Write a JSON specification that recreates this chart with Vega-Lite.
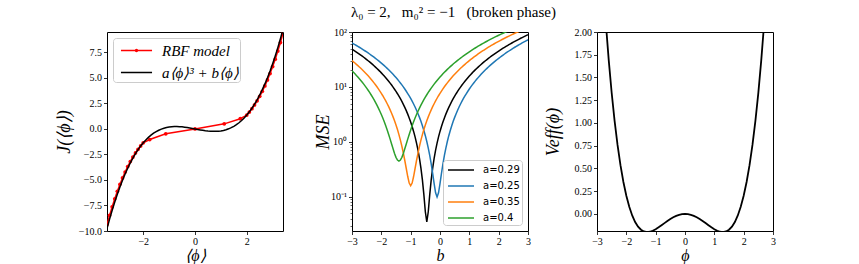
{
  "$schema": "https://vega.github.io/schema/vega-lite/v6.json",
  "padding": {"left": 54, "top": 4, "right": 5, "bottom": 0},
  "title": {"text": "λ₀ = 2,\u2002 m₀² = −1\u2002 (broken phase)", "anchor": "middle", "dx": 38, "font": "Liberation Serif", "fontSize": 15, "fontWeight": "normal", "color": "black", "offset": 7},
  "datasets": {
    "fit": [
      {"phi": -3.4, "J": -9.766}, {"phi": -3.3, "J": -8.838}, {"phi": -3.2, "J": -7.967}, {"phi": -3.1, "J": -7.151}, {"phi": -3.0, "J": -6.39},
      {"phi": -2.9, "J": -5.681}, {"phi": -2.8, "J": -5.022}, {"phi": -2.7, "J": -4.412}, {"phi": -2.6, "J": -3.849}, {"phi": -2.5, "J": -3.331},
      {"phi": -2.4, "J": -2.857}, {"phi": -2.3, "J": -2.424}, {"phi": -2.2, "J": -2.032}, {"phi": -2.1, "J": -1.678}, {"phi": -2.0, "J": -1.36},
      {"phi": -1.9, "J": -1.077}, {"phi": -1.8, "J": -0.827}, {"phi": -1.7, "J": -0.609}, {"phi": -1.6, "J": -0.42}, {"phi": -1.5, "J": -0.259},
      {"phi": -1.4, "J": -0.124}, {"phi": -1.3, "J": -0.013}, {"phi": -1.2, "J": 0.075}, {"phi": -1.1, "J": 0.142}, {"phi": -1.0, "J": 0.19},
      {"phi": -0.9, "J": 0.221}, {"phi": -0.8, "J": 0.236}, {"phi": -0.7, "J": 0.237}, {"phi": -0.6, "J": 0.225}, {"phi": -0.5, "J": 0.204},
      {"phi": -0.4, "J": 0.173}, {"phi": -0.3, "J": 0.136}, {"phi": -0.2, "J": 0.094}, {"phi": -0.1, "J": 0.048}, {"phi": 0.0, "J": 0.0},
      {"phi": 0.1, "J": -0.048}, {"phi": 0.2, "J": -0.094}, {"phi": 0.3, "J": -0.136}, {"phi": 0.4, "J": -0.173}, {"phi": 0.5, "J": -0.204},
      {"phi": 0.6, "J": -0.225}, {"phi": 0.7, "J": -0.237}, {"phi": 0.8, "J": -0.236}, {"phi": 0.9, "J": -0.221}, {"phi": 1.0, "J": -0.19},
      {"phi": 1.1, "J": -0.142}, {"phi": 1.2, "J": -0.075}, {"phi": 1.3, "J": 0.013}, {"phi": 1.4, "J": 0.124}, {"phi": 1.5, "J": 0.259},
      {"phi": 1.6, "J": 0.42}, {"phi": 1.7, "J": 0.609}, {"phi": 1.8, "J": 0.827}, {"phi": 1.9, "J": 1.077}, {"phi": 2.0, "J": 1.36},
      {"phi": 2.1, "J": 1.678}, {"phi": 2.2, "J": 2.032}, {"phi": 2.3, "J": 2.424}, {"phi": 2.4, "J": 2.857}, {"phi": 2.5, "J": 3.331},
      {"phi": 2.6, "J": 3.849}, {"phi": 2.7, "J": 4.412}, {"phi": 2.8, "J": 5.022}, {"phi": 2.9, "J": 5.681}, {"phi": 3.0, "J": 6.39},
      {"phi": 3.1, "J": 7.151}, {"phi": 3.2, "J": 7.967}, {"phi": 3.3, "J": 8.838}, {"phi": 3.4, "J": 9.766}
    ],
    "rbf": [
      {"phi": -3.4, "J": -9.37}, {"phi": -3.3, "J": -8.47}, {"phi": -3.2, "J": -7.63}, {"phi": -3.1, "J": -6.84}, {"phi": -3.0, "J": -6.11},
      {"phi": -2.9, "J": -5.43}, {"phi": -2.8, "J": -4.8}, {"phi": -2.7, "J": -4.22}, {"phi": -2.6, "J": -3.69}, {"phi": -2.5, "J": -3.2},
      {"phi": -2.4, "J": -2.76}, {"phi": -2.3, "J": -2.35}, {"phi": -2.2, "J": -1.99}, {"phi": -2.1, "J": -1.66}, {"phi": -2.0, "J": -1.36},
      {"phi": -1.75, "J": -1.04}, {"phi": -1.13, "J": -0.48}, {"phi": 0.0, "J": 0.0}, {"phi": 1.13, "J": 0.5}, {"phi": 1.75, "J": 1.0},
      {"phi": 2.0, "J": 1.36}, {"phi": 2.1, "J": 1.66}, {"phi": 2.2, "J": 1.99}, {"phi": 2.3, "J": 2.35}, {"phi": 2.4, "J": 2.76},
      {"phi": 2.5, "J": 3.2}, {"phi": 2.6, "J": 3.69}, {"phi": 2.7, "J": 4.22}, {"phi": 2.8, "J": 4.8}, {"phi": 2.9, "J": 5.43},
      {"phi": 3.0, "J": 6.11}, {"phi": 3.1, "J": 6.84}, {"phi": 3.2, "J": 7.63}, {"phi": 3.3, "J": 8.47}, {"phi": 3.4, "J": 9.37}
    ],
    "mse": [
      {"b": -3.0, "a029": 48.8, "a025": 63.18, "a035": 30.16, "a04": 19.65},
      {"b": -2.95, "a029": 46.91, "a025": 61.02, "a035": 28.68, "a04": 18.47},
      {"b": -2.9, "a029": 45.05, "a025": 58.9, "a035": 27.24, "a04": 17.33},
      {"b": -2.85, "a029": 43.24, "a025": 56.82, "a035": 25.83, "a04": 16.22},
      {"b": -2.8, "a029": 41.45, "a025": 54.78, "a035": 24.46, "a04": 15.15},
      {"b": -2.75, "a029": 39.71, "a025": 52.77, "a035": 23.13, "a04": 14.12},
      {"b": -2.7, "a029": 38.0, "a025": 50.8, "a035": 21.84, "a04": 13.13},
      {"b": -2.65, "a029": 36.34, "a025": 48.87, "a035": 20.58, "a04": 12.17},
      {"b": -2.6, "a029": 34.7, "a025": 46.98, "a035": 19.36, "a04": 11.25},
      {"b": -2.55, "a029": 33.11, "a025": 45.12, "a035": 18.18, "a04": 10.37},
      {"b": -2.5, "a029": 31.55, "a025": 43.3, "a035": 17.04, "a04": 9.525},
      {"b": -2.45, "a029": 30.04, "a025": 41.52, "a035": 15.93, "a04": 8.719},
      {"b": -2.4, "a029": 28.55, "a025": 39.78, "a035": 14.86, "a04": 7.95},
      {"b": -2.35, "a029": 27.11, "a025": 38.07, "a035": 13.83, "a04": 7.219},
      {"b": -2.3, "a029": 25.7, "a025": 36.4, "a035": 12.84, "a04": 6.525},
      {"b": -2.25, "a029": 24.34, "a025": 34.77, "a035": 11.88, "a04": 5.869},
      {"b": -2.2, "a029": 23.0, "a025": 33.18, "a035": 10.96, "a04": 5.25},
      {"b": -2.15, "a029": 21.71, "a025": 31.62, "a035": 10.08, "a04": 4.669},
      {"b": -2.1, "a029": 20.45, "a025": 30.1, "a035": 9.235, "a04": 4.125},
      {"b": -2.05, "a029": 19.24, "a025": 28.62, "a035": 8.429, "a04": 3.619},
      {"b": -2.0, "a029": 18.05, "a025": 27.18, "a035": 7.66, "a04": 3.15},
      {"b": -1.95, "a029": 16.91, "a025": 25.77, "a035": 6.929, "a04": 2.719},
      {"b": -1.9, "a029": 15.8, "a025": 24.4, "a035": 6.235, "a04": 2.325},
      {"b": -1.85, "a029": 14.74, "a025": 23.07, "a035": 5.579, "a04": 1.969},
      {"b": -1.8, "a029": 13.7, "a025": 21.78, "a035": 4.96, "a04": 1.65},
      {"b": -1.75, "a029": 12.71, "a025": 20.52, "a035": 4.379, "a04": 1.369},
      {"b": -1.7, "a029": 11.75, "a025": 19.3, "a035": 3.835, "a04": 1.125},
      {"b": -1.65, "a029": 10.84, "a025": 18.12, "a035": 3.329, "a04": 0.9188},
      {"b": -1.6, "a029": 9.954, "a025": 16.98, "a035": 2.86, "a04": 0.75},
      {"b": -1.55, "a029": 9.11, "a025": 15.87, "a035": 2.429, "a04": 0.6188},
      {"b": -1.5, "a029": 8.304, "a025": 14.8, "a035": 2.035, "a04": 0.525},
      {"b": -1.45, "a029": 7.535, "a025": 13.77, "a035": 1.679, "a04": 0.4688},
      {"b": -1.4, "a029": 6.804, "a025": 12.78, "a035": 1.36, "a04": 0.45},
      {"b": -1.35, "a029": 6.11, "a025": 11.82, "a035": 1.079, "a04": 0.4688},
      {"b": -1.3, "a029": 5.454, "a025": 10.9, "a035": 0.835, "a04": 0.525},
      {"b": -1.25, "a029": 4.835, "a025": 10.02, "a035": 0.6288, "a04": 0.6188},
      {"b": -1.2, "a029": 4.254, "a025": 9.175, "a035": 0.46, "a04": 0.75},
      {"b": -1.15, "a029": 3.71, "a025": 8.369, "a035": 0.3288, "a04": 0.9188},
      {"b": -1.1, "a029": 3.204, "a025": 7.6, "a035": 0.235, "a04": 1.125},
      {"b": -1.05, "a029": 2.735, "a025": 6.869, "a035": 0.1788, "a04": 1.369},
      {"b": -1.0, "a029": 2.304, "a025": 6.175, "a035": 0.16, "a04": 1.65},
      {"b": -0.95, "a029": 1.91, "a025": 5.519, "a035": 0.1788, "a04": 1.969},
      {"b": -0.9, "a029": 1.554, "a025": 4.9, "a035": 0.235, "a04": 2.325},
      {"b": -0.85, "a029": 1.235, "a025": 4.319, "a035": 0.3288, "a04": 2.719},
      {"b": -0.8, "a029": 0.9538, "a025": 3.775, "a035": 0.46, "a04": 3.15},
      {"b": -0.75, "a029": 0.71, "a025": 3.269, "a035": 0.6288, "a04": 3.619},
      {"b": -0.7, "a029": 0.5038, "a025": 2.8, "a035": 0.835, "a04": 4.125},
      {"b": -0.65, "a029": 0.335, "a025": 2.369, "a035": 1.079, "a04": 4.669},
      {"b": -0.6, "a029": 0.2038, "a025": 1.975, "a035": 1.36, "a04": 5.25},
      {"b": -0.55, "a029": 0.11, "a025": 1.619, "a035": 1.679, "a04": 5.869},
      {"b": -0.5, "a029": 0.05375, "a025": 1.3, "a035": 2.035, "a04": 6.525},
      {"b": -0.45, "a029": 0.035, "a025": 1.019, "a035": 2.429, "a04": 7.219},
      {"b": -0.4, "a029": 0.05375, "a025": 0.775, "a035": 2.86, "a04": 7.95},
      {"b": -0.35, "a029": 0.11, "a025": 0.5688, "a035": 3.329, "a04": 8.719},
      {"b": -0.3, "a029": 0.2038, "a025": 0.4, "a035": 3.835, "a04": 9.525},
      {"b": -0.25, "a029": 0.335, "a025": 0.2688, "a035": 4.379, "a04": 10.37},
      {"b": -0.2, "a029": 0.5038, "a025": 0.175, "a035": 4.96, "a04": 11.25},
      {"b": -0.15, "a029": 0.71, "a025": 0.1188, "a035": 5.579, "a04": 12.17},
      {"b": -0.1, "a029": 0.9538, "a025": 0.1, "a035": 6.235, "a04": 13.13},
      {"b": -0.05, "a029": 1.235, "a025": 0.1188, "a035": 6.929, "a04": 14.12},
      {"b": 0.0, "a029": 1.554, "a025": 0.175, "a035": 7.66, "a04": 15.15},
      {"b": 0.05, "a029": 1.91, "a025": 0.2688, "a035": 8.429, "a04": 16.22},
      {"b": 0.1, "a029": 2.304, "a025": 0.4, "a035": 9.235, "a04": 17.33},
      {"b": 0.15, "a029": 2.735, "a025": 0.5688, "a035": 10.08, "a04": 18.47},
      {"b": 0.2, "a029": 3.204, "a025": 0.775, "a035": 10.96, "a04": 19.65},
      {"b": 0.25, "a029": 3.71, "a025": 1.019, "a035": 11.88, "a04": 20.87},
      {"b": 0.3, "a029": 4.254, "a025": 1.3, "a035": 12.84, "a04": 22.13},
      {"b": 0.35, "a029": 4.835, "a025": 1.619, "a035": 13.83, "a04": 23.42},
      {"b": 0.4, "a029": 5.454, "a025": 1.975, "a035": 14.86, "a04": 24.75},
      {"b": 0.45, "a029": 6.11, "a025": 2.369, "a035": 15.93, "a04": 26.12},
      {"b": 0.5, "a029": 6.804, "a025": 2.8, "a035": 17.04, "a04": 27.53},
      {"b": 0.55, "a029": 7.535, "a025": 3.269, "a035": 18.18, "a04": 28.97},
      {"b": 0.6, "a029": 8.304, "a025": 3.775, "a035": 19.36, "a04": 30.45},
      {"b": 0.65, "a029": 9.11, "a025": 4.319, "a035": 20.58, "a04": 31.97},
      {"b": 0.7, "a029": 9.954, "a025": 4.9, "a035": 21.84, "a04": 33.53},
      {"b": 0.75, "a029": 10.84, "a025": 5.519, "a035": 23.13, "a04": 35.12},
      {"b": 0.8, "a029": 11.75, "a025": 6.175, "a035": 24.46, "a04": 36.75},
      {"b": 0.85, "a029": 12.71, "a025": 6.869, "a035": 25.83, "a04": 38.42},
      {"b": 0.9, "a029": 13.7, "a025": 7.6, "a035": 27.24, "a04": 40.13},
      {"b": 0.95, "a029": 14.74, "a025": 8.369, "a035": 28.68, "a04": 41.87},
      {"b": 1.0, "a029": 15.8, "a025": 9.175, "a035": 30.16, "a04": 43.65},
      {"b": 1.05, "a029": 16.91, "a025": 10.02, "a035": 31.68, "a04": 45.47},
      {"b": 1.1, "a029": 18.05, "a025": 10.9, "a035": 33.24, "a04": 47.33},
      {"b": 1.15, "a029": 19.24, "a025": 11.82, "a035": 34.83, "a04": 49.22},
      {"b": 1.2, "a029": 20.45, "a025": 12.78, "a035": 36.46, "a04": 51.15},
      {"b": 1.25, "a029": 21.71, "a025": 13.77, "a035": 38.13, "a04": 53.12},
      {"b": 1.3, "a029": 23.0, "a025": 14.8, "a035": 39.84, "a04": 55.13},
      {"b": 1.35, "a029": 24.34, "a025": 15.87, "a035": 41.58, "a04": 57.17},
      {"b": 1.4, "a029": 25.7, "a025": 16.98, "a035": 43.36, "a04": 59.25},
      {"b": 1.45, "a029": 27.11, "a025": 18.12, "a035": 45.18, "a04": 61.37},
      {"b": 1.5, "a029": 28.55, "a025": 19.3, "a035": 47.04, "a04": 63.53},
      {"b": 1.55, "a029": 30.04, "a025": 20.52, "a035": 48.93, "a04": 65.72},
      {"b": 1.6, "a029": 31.55, "a025": 21.78, "a035": 50.86, "a04": 67.95},
      {"b": 1.65, "a029": 33.11, "a025": 23.07, "a035": 52.83, "a04": 70.22},
      {"b": 1.7, "a029": 34.7, "a025": 24.4, "a035": 54.84, "a04": 72.53},
      {"b": 1.75, "a029": 36.34, "a025": 25.77, "a035": 56.88, "a04": 74.87},
      {"b": 1.8, "a029": 38.0, "a025": 27.18, "a035": 58.96, "a04": 77.25},
      {"b": 1.85, "a029": 39.71, "a025": 28.62, "a035": 61.08, "a04": 79.67},
      {"b": 1.9, "a029": 41.45, "a025": 30.1, "a035": 63.24, "a04": 82.13},
      {"b": 1.95, "a029": 43.24, "a025": 31.62, "a035": 65.43, "a04": 84.62},
      {"b": 2.0, "a029": 45.05, "a025": 33.18, "a035": 67.66, "a04": 87.15},
      {"b": 2.05, "a029": 46.91, "a025": 34.77, "a035": 69.93, "a04": 89.72},
      {"b": 2.1, "a029": 48.8, "a025": 36.4, "a035": 72.24, "a04": 92.33},
      {"b": 2.15, "a029": 50.74, "a025": 38.07, "a035": 74.58, "a04": 94.97},
      {"b": 2.2, "a029": 52.7, "a025": 39.78, "a035": 76.96, "a04": 97.65},
      {"b": 2.25, "a029": 54.71, "a025": 41.52, "a035": 79.38, "a04": 100.4},
      {"b": 2.3, "a029": 56.75, "a025": 43.3, "a035": 81.84, "a04": 103.1},
      {"b": 2.35, "a029": 58.84, "a025": 45.12, "a035": 84.33, "a04": 105.9},
      {"b": 2.4, "a029": 60.95, "a025": 46.98, "a035": 86.86, "a04": 108.8},
      {"b": 2.45, "a029": 63.11, "a025": 48.87, "a035": 89.43, "a04": 111.6},
      {"b": 2.5, "a029": 65.3, "a025": 50.8, "a035": 92.04, "a04": 114.5},
      {"b": 2.55, "a029": 67.54, "a025": 52.77, "a035": 94.68, "a04": 117.5},
      {"b": 2.6, "a029": 69.8, "a025": 54.78, "a035": 97.36, "a04": 120.5},
      {"b": 2.65, "a029": 72.11, "a025": 56.82, "a035": 100.1, "a04": 123.5},
      {"b": 2.7, "a029": 74.45, "a025": 58.9, "a035": 102.8, "a04": 126.5},
      {"b": 2.75, "a029": 76.84, "a025": 61.02, "a035": 105.6, "a04": 129.6},
      {"b": 2.8, "a029": 79.25, "a025": 63.18, "a035": 108.5, "a04": 132.8},
      {"b": 2.85, "a029": 81.71, "a025": 65.37, "a035": 111.3, "a04": 135.9},
      {"b": 2.9, "a029": 84.2, "a025": 67.6, "a035": 114.2, "a04": 139.1},
      {"b": 2.95, "a029": 86.74, "a025": 69.87, "a035": 117.2, "a04": 142.4},
      {"b": 3.0, "a029": 89.3, "a025": 72.18, "a035": 120.2, "a04": 145.7}
    ],
    "veff": [
      {"phi": -2.8, "V": 2.5747}, {"phi": -2.7, "V": 2.1033}, {"phi": -2.6, "V": 1.6907}, {"phi": -2.5, "V": 1.332}, {"phi": -2.4, "V": 1.023},
      {"phi": -2.3, "V": 0.7592}, {"phi": -2.2, "V": 0.5368}, {"phi": -2.1, "V": 0.3516}, {"phi": -2.0, "V": 0.2}, {"phi": -1.9, "V": 0.0784},
      {"phi": -1.8, "V": -0.0165}, {"phi": -1.7, "V": -0.0881}, {"phi": -1.6, "V": -0.1393}, {"phi": -1.5, "V": -0.173}, {"phi": -1.4, "V": -0.1919},
      {"phi": -1.3, "V": -0.1985}, {"phi": -1.2, "V": -0.1953}, {"phi": -1.1, "V": -0.1843}, {"phi": -1.0, "V": -0.1675}, {"phi": -0.9, "V": -0.1468},
      {"phi": -0.8, "V": -0.1239}, {"phi": -0.7, "V": -0.1002}, {"phi": -0.6, "V": -0.077}, {"phi": -0.5, "V": -0.0555}, {"phi": -0.4, "V": -0.0365},
      {"phi": -0.3, "V": -0.021}, {"phi": -0.2, "V": -0.0095}, {"phi": -0.1, "V": -0.0024}, {"phi": 0.0, "V": 0.0},
      {"phi": 0.1, "V": -0.0024}, {"phi": 0.2, "V": -0.0095}, {"phi": 0.3, "V": -0.021}, {"phi": 0.4, "V": -0.0365}, {"phi": 0.5, "V": -0.0555},
      {"phi": 0.6, "V": -0.077}, {"phi": 0.7, "V": -0.1002}, {"phi": 0.8, "V": -0.1239}, {"phi": 0.9, "V": -0.1468}, {"phi": 1.0, "V": -0.1675},
      {"phi": 1.1, "V": -0.1843}, {"phi": 1.2, "V": -0.1953}, {"phi": 1.3, "V": -0.1985}, {"phi": 1.4, "V": -0.1919}, {"phi": 1.5, "V": -0.173},
      {"phi": 1.6, "V": -0.1393}, {"phi": 1.7, "V": -0.0881}, {"phi": 1.8, "V": -0.0165}, {"phi": 1.9, "V": 0.0784}, {"phi": 2.0, "V": 0.2},
      {"phi": 2.1, "V": 0.3516}, {"phi": 2.2, "V": 0.5368}, {"phi": 2.3, "V": 0.7592}, {"phi": 2.4, "V": 1.023}, {"phi": 2.5, "V": 1.332},
      {"phi": 2.6, "V": 1.6907}, {"phi": 2.7, "V": 2.1033}, {"phi": 2.8, "V": 2.5747}
    ]
  },
  "spacing": 69,
  "bounds": "flush",
  "resolve": {"scale": {"color": "independent"}, "legend": {"color": "independent"}},
  "hconcat": [
    {
      "width": 176,
      "height": 199,
      "encoding": {
        "x": {"field": "phi", "type": "quantitative", "scale": {"domain": [-3.4, 3.4], "nice": false, "zero": false}, "axis": {"values": [-2, 0, 2], "title": "⟨ϕ⟩", "titlePadding": 1, "titleFontSize": 16}},
        "y": {"field": "J", "type": "quantitative", "scale": {"domain": [-10, 9.5], "nice": false, "zero": false}, "axis": {"values": [-10, -7.5, -5, -2.5, 0, 2.5, 5, 7.5], "format": ".1f", "title": "J(⟨ϕ⟩)", "titlePadding": 5}}
      },
      "layer": [
        {
          "data": {"name": "rbf"},
          "mark": {"type": "line", "clip": true, "strokeWidth": 1.5, "point": {"filled": true, "size": 14}},
          "encoding": {
            "color": {
              "datum": "RBF model",
              "scale": {"domain": ["RBF model", "a⟨ϕ⟩³ + b⟨ϕ⟩"], "range": ["#ff0000", "#000000"]},
              "legend": {
                "title": null, "orient": "top-left", "offset": 6,
                "symbolType": "stroke", "symbolSize": 441, "symbolStrokeWidth": 1.5, "symbolOffset": 11,
                "labelFont": "Liberation Serif", "labelFontStyle": "italic", "labelFontSize": 15, "labelColor": "black", "labelOffset": 14,
                "rowPadding": 2, "padding": 1, "strokeColor": "#cccccc", "fillColor": "rgba(255,255,255,0.8)", "cornerRadius": 3,
                "encode": {"symbols": {"update": {"shape": {"signal": "datum.value === 'RBF model' ? 'M-1.48,0H1.48M-0.09,0A0.09,0.09 0 1,1 0.09,0A0.09,0.09 0 1,1 -0.09,0' : 'M-1.48,0H1.48'"}}}}
              }
            }
          }
        },
        {
          "data": {"name": "fit"},
          "mark": {"type": "line", "clip": true, "strokeWidth": 1.5},
          "encoding": {"color": {"datum": "a⟨ϕ⟩³ + b⟨ϕ⟩"}}
        }
      ]
    },
    {
      "width": 176,
      "height": 199,
      "data": {"name": "mse"},
      "encoding": {
        "x": {"field": "b", "type": "quantitative", "scale": {"domain": [-3, 3], "nice": false, "zero": false}, "axis": {"values": [-3, -2, -1, 0, 1, 2, 3], "title": "b", "titlePadding": 1, "titleFontSize": 16}}
      },
      "layer": [
        {
          "mark": {"type": "line", "clip": true, "strokeWidth": 1.5},
          "encoding": {
            "y": {
              "field": "a029", "type": "quantitative",
              "scale": {"type": "log", "domain": [0.024, 100], "nice": false},
              "axis": {
                "title": "MSE", "titleFontSize": 18, "titlePadding": -2,
                "values": [0.03, 0.04, 0.05, 0.06, 0.07, 0.08, 0.09, 0.1, 0.2, 0.3, 0.4, 0.5, 0.6, 0.7, 0.8, 0.9, 1, 2, 3, 4, 5, 6, 7, 8, 9, 10, 20, 30, 40, 50, 60, 70, 80, 90, 100],
                "labelExpr": "datum.value == 100 ? '10²' : datum.value == 10 ? '10¹' : datum.value == 1 ? '10⁰' : datum.value == 0.1 ? '10⁻¹' : ''",
                "tickSize": {"condition": {"test": "datum.value == 0.1 || datum.value == 1 || datum.value == 10 || datum.value == 100", "value": 3.5}, "value": 2},
                "tickWidth": {"condition": {"test": "datum.value == 0.1 || datum.value == 1 || datum.value == 10 || datum.value == 100", "value": 0.8}, "value": 0.6}
              }
            },
            "color": {
              "datum": "a=0.29",
              "scale": {"domain": ["a=0.29", "a=0.25", "a=0.35", "a=0.4"], "range": ["#000000", "#1f77b4", "#ff7f0e", "#2ca02c"]},
              "legend": {
                "title": null, "orient": "bottom-right", "offset": 6,
                "symbolType": "stroke", "symbolSize": 196, "symbolStrokeWidth": 1.5, "symbolOffset": 8,
                "labelFont": "DejaVu Sans", "labelFontSize": 10, "labelColor": "black", "labelOffset": 14,
                "rowPadding": 3, "padding": 2, "strokeColor": "#cccccc", "fillColor": "rgba(255,255,255,0.8)", "cornerRadius": 3,
                "encode": {"symbols": {"update": {"shape": {"value": "M-1.86,0H1.86"}}}}
              }
            }
          }
        },
        {
          "mark": {"type": "line", "clip": true, "strokeWidth": 1.5},
          "encoding": {"y": {"field": "a025", "type": "quantitative"}, "color": {"datum": "a=0.25"}}
        },
        {
          "mark": {"type": "line", "clip": true, "strokeWidth": 1.5},
          "encoding": {"y": {"field": "a035", "type": "quantitative"}, "color": {"datum": "a=0.35"}}
        },
        {
          "mark": {"type": "line", "clip": true, "strokeWidth": 1.5},
          "encoding": {"y": {"field": "a04", "type": "quantitative"}, "color": {"datum": "a=0.4"}}
        }
      ]
    },
    {
      "width": 176,
      "height": 199,
      "data": {"name": "veff"},
      "mark": {"type": "line", "clip": true, "strokeWidth": 1.8, "color": "black"},
      "encoding": {
        "x": {"field": "phi", "type": "quantitative", "scale": {"domain": [-3, 3], "nice": false, "zero": false}, "axis": {"values": [-3, -2, -1, 0, 1, 2, 3], "title": "ϕ", "titlePadding": 1, "titleFontSize": 16}},
        "y": {"field": "V", "type": "quantitative", "scale": {"domain": [-0.187, 2], "nice": false, "zero": false}, "axis": {"values": [0, 0.25, 0.5, 0.75, 1, 1.25, 1.5, 1.75, 2], "format": ".2f", "title": "Veff(ϕ)", "titlePadding": 12}}
      }
    }
  ],
  "config": {
    "background": "white",
    "view": {"stroke": "black", "strokeWidth": 1},
    "axis": {
      "domain": false, "grid": false,
      "tickColor": "black", "tickSize": 3.5, "tickWidth": 0.8,
      "labelFont": "Liberation Serif", "labelFontSize": 10, "labelColor": "black", "labelPadding": 2,
      "labelFlush": false, "labelOverlap": false,
      "titleFont": "Liberation Serif", "titleFontStyle": "italic", "titleFontWeight": "normal", "titleFontSize": 18, "titleColor": "black",
      "titlePadding": 6
    }
  }
}
